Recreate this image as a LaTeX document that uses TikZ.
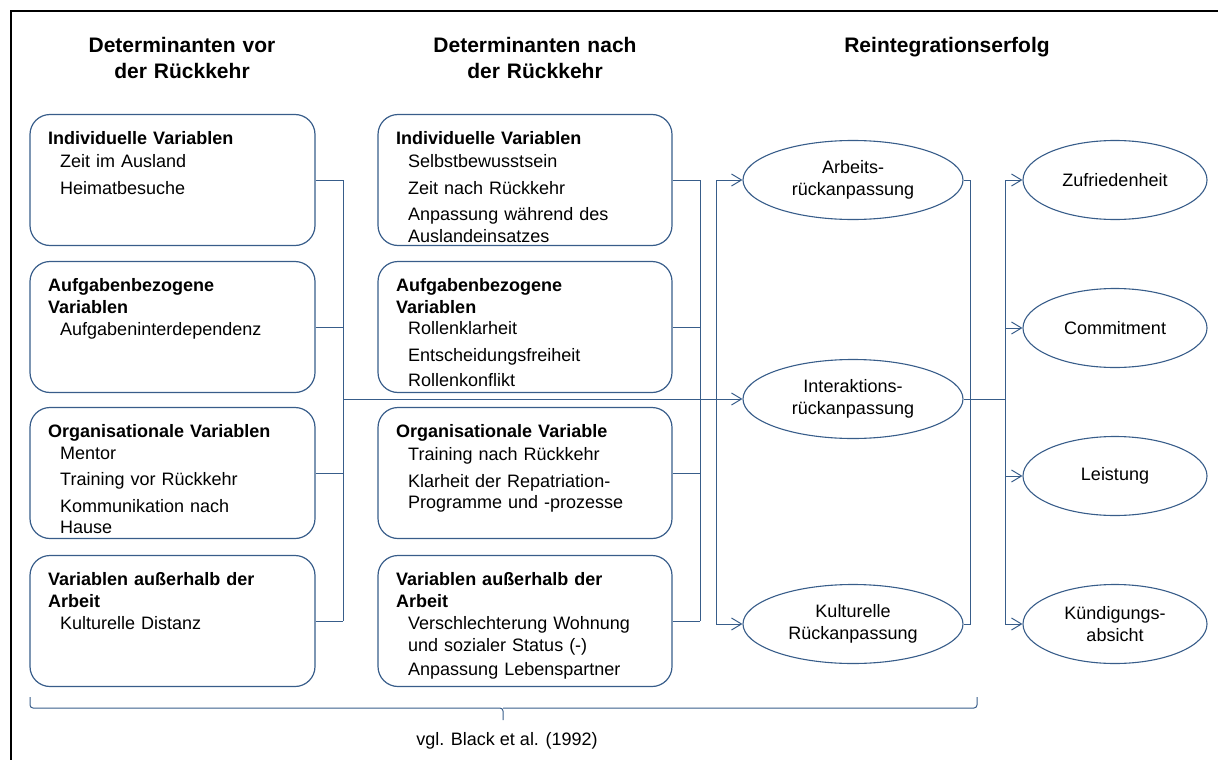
\documentclass[tikz,border=0pt]{standalone}
\usepackage{fontspec}
\setmainfont{Liberation Sans}
\usepackage{tikz}
\usetikzlibrary{arrows.meta,shapes.geometric}
\definecolor{rahmen}{RGB}{56,93,138}
\newcommand{\einzug}{\hspace*{12pt}}

\begin{document}
\begin{tikzpicture}[x=1pt,y=-1pt]
	\useasboundingbox (0,0) rectangle (1218,760);
	\fontsize{18}{21.5}\selectfont
	\tikzstyle{box}=[draw=rahmen, line width=1.2pt, rounded corners=20pt, minimum height=131pt]
	\tikzstyle{txt}=[anchor=base west, inner sep=0pt, text width=290pt, align=left]
	\tikzstyle{oval}=[ellipse, draw=rahmen, line width=1.1pt, minimum height=79pt, inner sep=0pt, align=center]
	\tikzstyle{head}=[anchor=base, inner sep=0pt, text width=300pt, align=center, font=\fontsize{21}{25}\selectfont\bfseries]
	\tikzstyle{linie}=[draw=rahmen, line width=1pt]
	\tikzstyle{arr}=[-{Straight Barb[length=10pt,width=12pt]}]
	\draw[line width=2pt] (11,760) -- (11,11) -- (1218,11);
	\node[head] (kopfvor) at (182,53) {Determinanten vor\\der Rückkehr};
	\node[head] (kopfnach) at (535,53) {Determinanten nach\\der Rückkehr};
	\node[head] (kopferfolg) at (947,53) {Reintegrationserfolg};
	\foreach \i/\h/\inhalt in {1/180/{\textbf{Individuelle Variablen}\\[1.5pt]\einzug Zeit im Ausland\\[5pt]\einzug Heimatbesuche},
	    2/327/{\textbf{Aufgabenbezogene}\\\textbf{Variablen}\\[1pt]\einzug Aufgabeninterdependenz},
	    3/473/{\textbf{Organisationale Variablen}\\\einzug Mentor\\[5pt]\einzug Training vor Rückkehr\\[5pt]\einzug Kommunikation nach\\\einzug Hause},
	    4/621/{\textbf{Variablen außerhalb der}\\\textbf{Arbeit}\\[1pt]\einzug Kulturelle Distanz}} {
	    \node[box, minimum width=285pt] (vor\i) at (172.5,\h) {};
	    \node[txt] (vortext\i) at (48,\h-35.5) {\inhalt};
	    \coordinate (sv\i) at (343,\h);
	    \draw[linie] (vor\i.east) -- (sv\i);
	}
	\foreach \i/\h/\inhalt in {1/180/{\textbf{Individuelle Variablen}\\[1.5pt]\einzug Selbstbewusstsein\\[5pt]\einzug Zeit nach Rückkehr\\[5pt]\einzug Anpassung während des\\\einzug Auslandeinsatzes},
	    2/327/{\textbf{Aufgabenbezogene}\\\textbf{Variablen}\\\einzug Rollenklarheit\\[5pt]\einzug Entscheidungsfreiheit\\[4pt]\einzug Rollenkonflikt},
	    3/473/{\textbf{Organisationale Variable}\\[1.5pt]\einzug Training nach Rückkehr\\[5pt]\einzug Klarheit der Repatriation-\\\einzug Programme und -prozesse},
	    4/621/{\textbf{Variablen außerhalb der}\\\textbf{Arbeit}\\[1pt]\einzug Verschlechterung Wohnung\\\einzug und sozialer Status (-)\\[3pt]\einzug Anpassung Lebenspartner}} {
	    \node[box, minimum width=294pt] (nach\i) at (525,\h) {};
	    \node[txt] (nachtext\i) at (396,\h-35.5) {\inhalt};
	    \coordinate (sn\i) at (700,\h);
	    \draw[linie] (nach\i.east) -- (sn\i);
	}
	\foreach \j/\h/\beschr in {1/180/{Arbeits-\\rückanpassung},2/399/{Interaktions-\\rückanpassung},3/624/{Kulturelle\\Rückanpassung}} {
	    \node[oval, minimum width=220pt] (rueck\j) at (853,\h) {\beschr};
	    \coordinate (ein\j) at (716,\h);
	    \coordinate (aus\j) at (970,\h);
	}
	\foreach \k/\h/\beschr in {1/180/Zufriedenheit,2/328/Commitment,3/476/Leistung,4/624/{Kündigungs-\\absicht}} {
	    \node[oval, minimum width=184pt] (erfolg\k) at (1115,\h) {\beschr};
	    \coordinate (ziel\k) at (1005,\h);
	    \draw[linie, arr] (ziel\k) -- (erfolg\k);
	}
	\coordinate (svm) at (343,399);
	\coordinate (zielm) at (1005,399);
	\draw[linie] (sv1) -- (sv4);
	\draw[linie] (sn1) -- (sn4);
	\draw[linie, arr] (svm) -- (rueck2);
	\draw[linie] (ein1) -- (ein3);
	\draw[linie, arr] (ein1) -- (rueck1);
	\draw[linie, arr] (ein3) -- (rueck3);
	\draw[linie] (rueck1.east) -- (aus1) -- (aus3) -- (rueck3.east);
	\draw[linie] (rueck2.east) -- (zielm);
	\draw[linie] (ziel1) -- (ziel4);
	% Klammer
	\draw[linie, rounded corners=3pt] (30,697) -- (30,708) -- (503,708) -- (503,720);
	\draw[linie, rounded corners=3pt] (977,697) -- (977,708) -- (503,708);
	\node[anchor=base] (quelle) at (507,745) {vgl. Black et al. (1992)};
\end{tikzpicture}
\end{document}
